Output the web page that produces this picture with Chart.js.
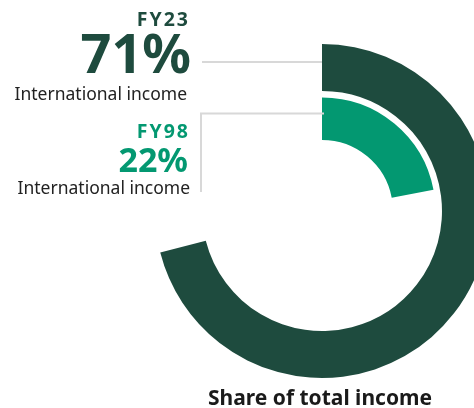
<!DOCTYPE html>
<html><head><meta charset="utf-8">
<script src="https://cdn.jsdelivr.net/npm/chart.js@4.4.0/dist/chart.umd.min.js"></script>
<style>html,body{margin:0;padding:0;background:#fff;overflow:hidden}#wrap{width:474px;height:408px;position:relative}</style>
</head><body><div id="wrap"><canvas id="c" width="474" height="408"></canvas></div>
<script>
// ---- data ----
const years = ['FY23', 'FY98'];
const shares = [71, 22];            // % of total income that is international
const seriesLabel = 'International income';
const chartTitle = 'Share of total income';

// ---- style ----
const DARK = '#1e4b3e';
const TEAL = '#039871';
const NONE = 'rgba(0,0,0,0)';
const FONT = '"Noto Sans", sans-serif';

function txt(ctx, s, x, y, font, spacing) {
  ctx.font = font;
  if ('letterSpacing' in ctx) ctx.letterSpacing = spacing || '0px';
  ctx.fillText(s, x, y);
}

const labelPlugin = {
  id: 'labels',
  afterDraw(chart) {
    const ctx = chart.ctx;
    const a0 = chart.getDatasetMeta(0).data[0];
    const a2 = chart.getDatasetMeta(2).data[0];
    const cx = a0.x, cy = a0.y;
    const y1 = cy - a0.outerRadius + 18;
    const y2 = cy - a2.outerRadius + 16;
    ctx.save();
    ctx.strokeStyle = '#d8d8d8';
    ctx.lineWidth = 2;
    ctx.beginPath();
    ctx.moveTo(202, y1); ctx.lineTo(cx, y1);
    ctx.moveTo(cx + 2, y2); ctx.lineTo(201, y2); ctx.lineTo(201, 192);
    ctx.stroke();

    ctx.textAlign = 'right';
    ctx.textBaseline = 'alphabetic';
    // FY23 block
    ctx.fillStyle = DARK;
    txt(ctx, years[0], 190, 26, 'bold 19.5px ' + FONT, '2px');
    txt(ctx, shares[0] + '%', 191, 73, 'bold 54px ' + FONT, '0px');
    ctx.fillStyle = '#222';
    txt(ctx, seriesLabel, 187, 100, '17.5px ' + FONT, '0px');
    // FY98 block
    ctx.fillStyle = TEAL;
    txt(ctx, years[1], 190, 138, 'bold 19.5px ' + FONT, '2px');
    txt(ctx, shares[1] + '%', 188, 172, 'bold 34px ' + FONT, '0px');
    ctx.fillStyle = '#222';
    txt(ctx, seriesLabel, 190, 194, '17.5px ' + FONT, '0px');
    // title
    ctx.textAlign = 'center';
    ctx.fillStyle = '#1a1a1a';
    txt(ctx, chartTitle, 320, 405, 'bold 21px ' + FONT, '0px');
    ctx.restore();
  }
};

new Chart(document.getElementById('c'), {
  type: 'doughnut',
  data: {
    labels: [seriesLabel, 'Other'],
    datasets: [
      { label: years[0], data: [shares[0], 100 - shares[0]], backgroundColor: [DARK, NONE], weight: 47, borderWidth: 0, clip: false },
      { label: 'gap', data: [100], backgroundColor: [NONE], weight: 6.5, borderWidth: 0, clip: false },
      { label: years[1], data: [shares[1], 100 - shares[1]], backgroundColor: [TEAL, NONE], weight: 42.5, borderWidth: 0, clip: false }
    ]
  },
  options: {
    responsive: false,
    animation: false,
    events: [],
    radius: 167,
    cutout: '42.5%',
    layout: { padding: { left: 170, right: 0, top: 14, bottom: 0 } },
    plugins: { legend: { display: false }, tooltip: { enabled: false }, title: { display: false } }
  },
  plugins: [labelPlugin]
});
</script>
</body></html>
